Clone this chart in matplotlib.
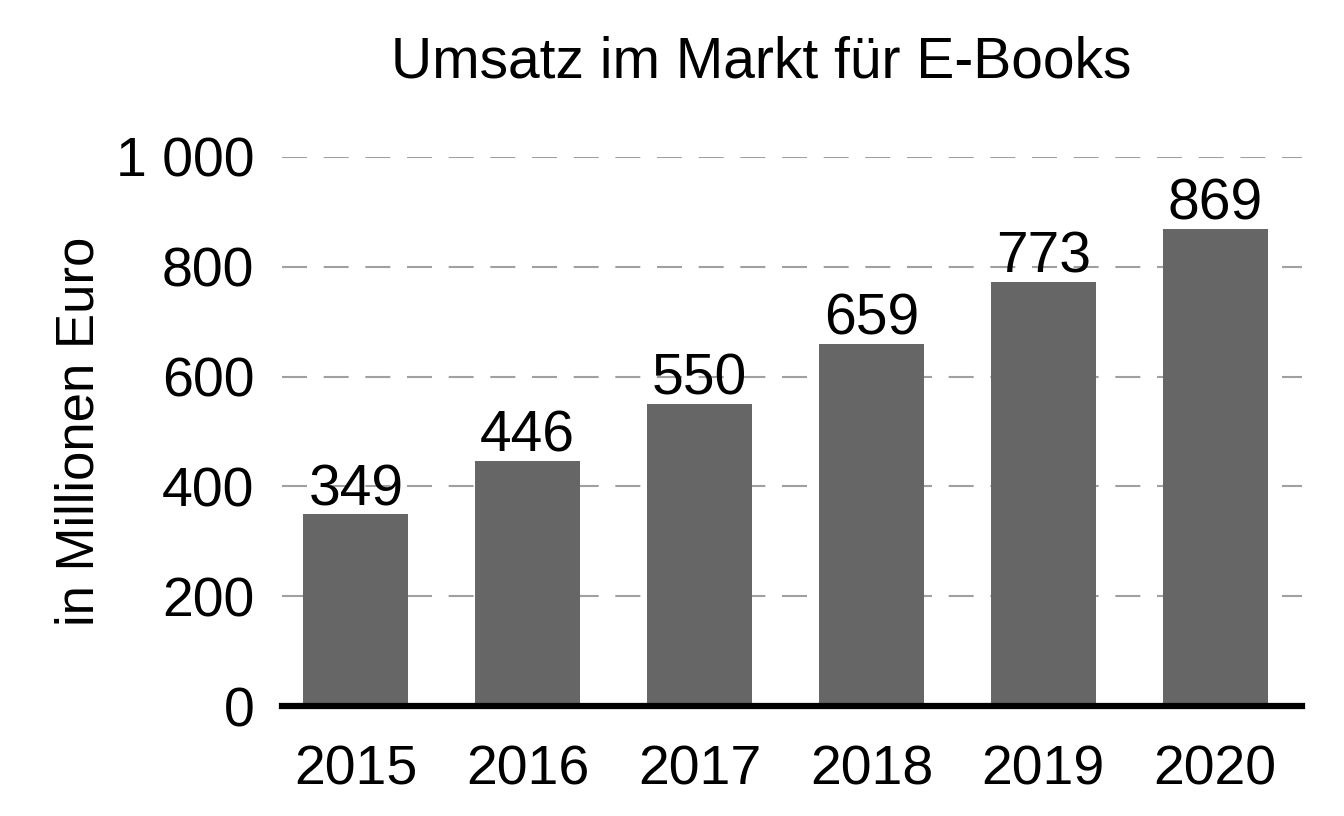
import matplotlib.pyplot as plt
from matplotlib.ticker import FuncFormatter

# Data
years = ['2015', '2016', '2017', '2018', '2019', '2020']
revenue = [349, 446, 550, 659, 773, 869]
y_ticks = [0, 200, 400, 600, 800, 1000]

plt.rcParams['font.family'] = ['Liberation Sans', 'DejaVu Sans']

fig = plt.figure(figsize=(13.44, 8.16), dpi=100)
ax = fig.add_axes([0.2098, 0.1348, 0.759, 0.6728])

x = range(len(years))
bars = ax.bar(x, revenue, width=0.61, color='#666666', zorder=3)
ax.bar_label(bars, labels=[str(v) for v in revenue], padding=-2, fontsize=41, clip_on=False)

ax.set_ylim(0, 1000)
ax.set_xlim(-0.43, 5.506)
ax.set_yticks(y_ticks)
ax.yaxis.set_major_formatter(FuncFormatter(lambda v, p: f'{int(v):,}'.replace(',', ' ')))
ax.set_xticks(list(x))
ax.set_xticklabels(years)
ax.tick_params(axis='both', length=0, labelsize=40)
ax.tick_params(axis='y', pad=20)
ax.tick_params(axis='x', pad=28)

ax.grid(axis='y', color='#a0a0a0', linestyle=(0, (12, 8)), linewidth=1.5, zorder=0)
for s in ['top', 'right', 'left']:
    ax.spines[s].set_visible(False)
ax.spines['bottom'].set_linewidth(4.5)
ax.spines['bottom'].set_color('black')
ax.spines['bottom'].set_zorder(4)

ax.set_ylabel('in Millionen Euro', fontsize=38, labelpad=8)
fig.text(0.566, 0.923, 'Umsatz im Markt für E-Books', fontsize=41, ha='center', va='center')

fig.savefig('out.png', dpi=100)
